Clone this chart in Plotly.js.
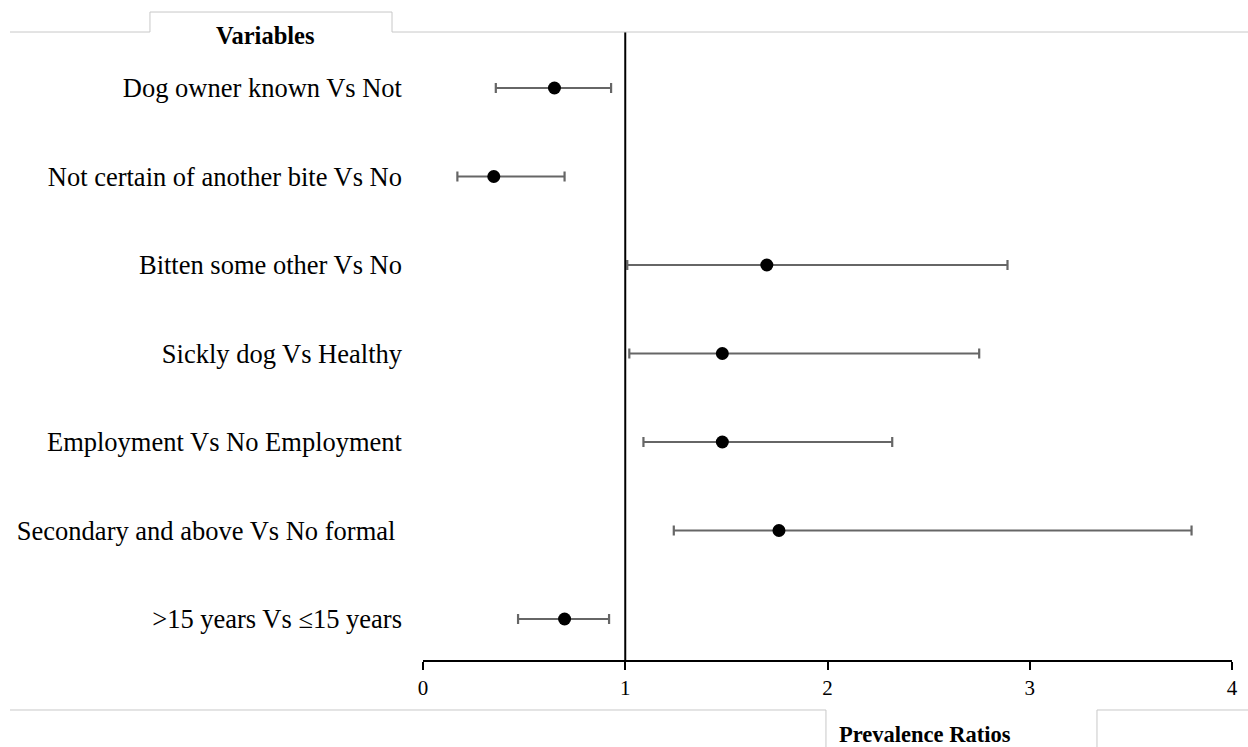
<!DOCTYPE html>
<html>
<head>
<meta charset="utf-8">
<script src="https://cdn.plot.ly/plotly-3.0.1.min.js"></script>
<style>html,body{margin:0;padding:0;background:#fff;}#chart{width:1248px;height:747px;}</style>
</head>
<body>
<div id="chart"></div>
<script>
// Categories listed top to bottom
const variables = [
  "Dog owner known Vs Not",
  "Not certain of another bite Vs No",
  "Bitten some other Vs No",
  "Sickly dog Vs Healthy",
  "Employment Vs No Employment",
  "Secondary and above Vs No formal\u00a0",
  ">15 years Vs \u226415 years"
];
const prevalenceRatio = [0.65, 0.35, 1.70, 1.48, 1.48, 1.76, 0.70];
const ciLower = [0.36, 0.17, 1.01, 1.02, 1.09, 1.24, 0.47];
const ciUpper = [0.93, 0.70, 2.89, 2.75, 2.32, 3.80, 0.92];
const xTicks = [0, 1, 2, 3, 4];
const referenceLine = 1;

const errPlus = prevalenceRatio.map((v, i) => ciUpper[i] - v);
const errMinus = prevalenceRatio.map((v, i) => v - ciLower[i]);

const trace = {
  type: "scatter",
  mode: "markers",
  x: prevalenceRatio,
  y: variables,
  marker: { color: "#000000", size: 13 },
  error_x: {
    type: "data",
    symmetric: false,
    array: errPlus,
    arrayminus: errMinus,
    color: "#666666",
    thickness: 2.2,
    width: 5
  },
  hoverinfo: "x+y",
  showlegend: false
};

const serif = "Liberation Serif, Times New Roman, serif";
const grey = "#c8c8c8";

const layout = {
  width: 1248,
  height: 747,
  margin: { l: 423, r: 16, t: 32, b: 87 },
  paper_bgcolor: "#ffffff",
  plot_bgcolor: "#ffffff",
  font: { family: serif, color: "#000000" },
  xaxis: {
    range: [0, 4],
    tickvals: xTicks,
    ticktext: xTicks.map(String),
    showgrid: false,
    zeroline: false,
    showline: true,
    linecolor: "#000000",
    linewidth: 2,
    ticks: "outside",
    ticklen: 8,
    tickwidth: 2,
    tickcolor: "#000000",
    tickfont: { family: serif, size: 21, color: "#000000" },
    fixedrange: true
  },
  yaxis: {
    type: "category",
    categoryorder: "array",
    categoryarray: variables,
    range: [6.463, -0.633],
    showgrid: false,
    zeroline: false,
    showline: false,
    ticks: "",
    ticklabelstandoff: 20,
    tickfont: { family: serif, size: 26.5, color: "#000000" },
    fixedrange: true
  },
  shapes: [
    { type: "line", xref: "x", yref: "paper", x0: referenceLine, x1: referenceLine, y0: 0, y1: 1,
      line: { color: "#000000", width: 2 } },
    // top decorative border (Variables box)
    { type: "path", xref: "paper", yref: "paper",
      path: "M -0.5105,1.0 L -0.3375,1.0 L -0.3375,1.0318 L -0.0383,1.0318 L -0.0383,1.0 L 1.0198,1.0",
      line: { color: grey, width: 1 } },
    // bottom decorative border (Prevalence Ratios box)
    { type: "path", xref: "paper", yref: "paper",
      path: "M -0.5105,-0.0796 L 0.4981,-0.0796 L 0.4981,-0.14 M 0.8331,-0.14 L 0.8331,-0.0796 L 1.0198,-0.0796",
      line: { color: grey, width: 1 } }
  ],
  annotations: [
    { text: "<b>Variables</b>", xref: "paper", yref: "paper", x: -0.1953, y: 0.994,
      xanchor: "center", yanchor: "middle", showarrow: false,
      font: { family: serif, size: 24.5, color: "#000000" } },
    { text: "<b>Prevalence Ratios</b>", xref: "paper", yref: "paper", x: 0.6205, y: -0.1194,
      xanchor: "center", yanchor: "middle", showarrow: false,
      font: { family: serif, size: 22.5, color: "#000000" } }
  ]
};

Plotly.newPlot("chart", [trace], layout, { displayModeBar: false, staticPlot: true });
</script>
</body>
</html>
